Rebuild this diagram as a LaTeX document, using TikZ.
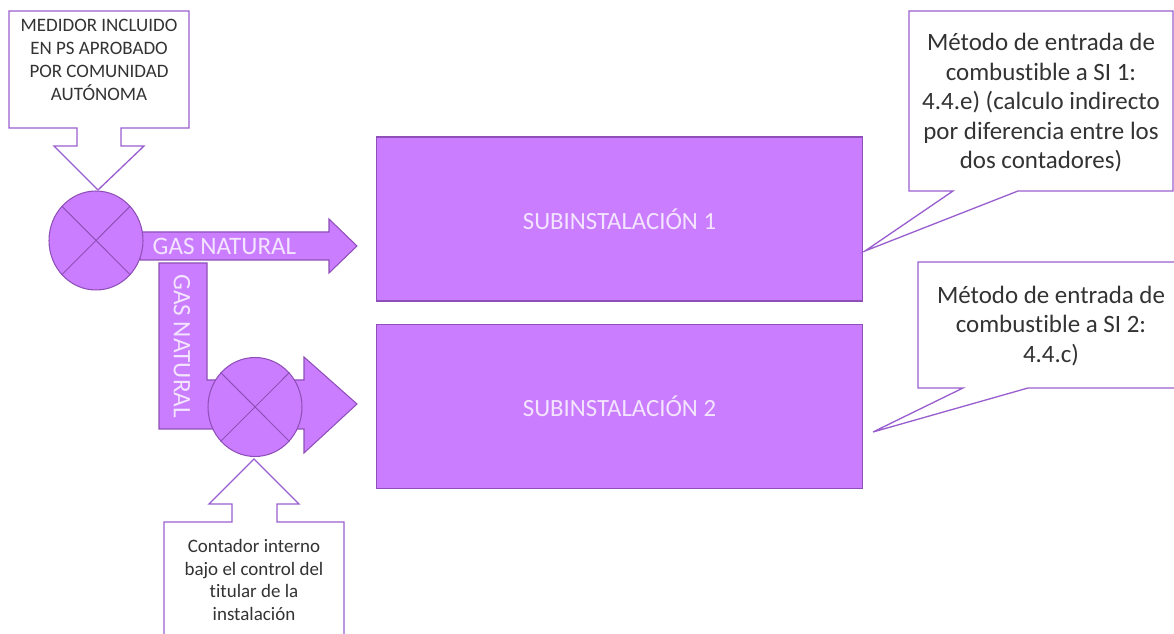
\documentclass[tikz,border=0pt]{standalone}
\usepackage{fontspec}
\setmainfont[Ligatures=NoCommon]{Carlito}
\usepackage{xcolor}
\usetikzlibrary{calc,shapes.geometric}
\definecolor{lilac}{HTML}{CB7DFF}
\definecolor{edge}{HTML}{8F4FB8}
\definecolor{note}{HTML}{9A5FCF}
\definecolor{ink}{HTML}{333333}
\definecolor{pale}{HTML}{F3E4FF}
\tikzset{
  flow/.style={draw=edge, fill=lilac, line width=0.6pt},
  subbox/.style={flow, minimum width=9.74cm, minimum height=3.28cm, inner sep=0pt, text=pale, font=\fontsize{14.1}{17}\selectfont},
  meter/.style={flow, ellipse, minimum width=1.88cm, minimum height=1.98cm, inner sep=0pt},
  cross/.style={draw=edge, line width=0.6pt},
  callout/.style={draw=note, fill=white, line width=0.75pt},
  lbl/.style={text=pale, font=\fontsize{14.3}{17}\selectfont, inner sep=0pt},
  smallnote/.style={text=ink, align=center, inner sep=0pt, font=\fontsize{10.8}{13}\selectfont},
  bignote/.style={text=ink, align=center, inner sep=0pt, font=\fontsize{14.2}{16.8}\selectfont}
}

\begin{document}
\begin{tikzpicture}[x=0.02cm, y=-0.02cm]
  \useasboundingbox (0,0) rectangle (1174,634);

  % gas lines
  \draw[flow] (140,232) -- (329,232) -- (329,219) -- (357,246) -- (329,273) -- (329,260) -- (140,260) -- cycle;
  \draw[flow] (159,263) -- (207,263) -- (207,380) -- (304,380) -- (304,357) -- (357,404)
    -- (304,453) -- (304,429) -- (159,429) -- cycle;
  \node[lbl] (gas1) at (224.5,246) {GAS NATURAL};
  \node[lbl, rotate=-90] (gas2) at (182,346) {GAS NATURAL};

  % meters
  \node[meter] (m1) at (96,240.5) {};
  \draw[cross] (m1.45) -- (m1.225);
  \draw[cross] (m1.135) -- (m1.315);
  \node[meter] (m2) at (255,407) {};
  \draw[cross] (m2.45) -- (m2.225);
  \draw[cross] (m2.135) -- (m2.315);

  % subinstallations
  \node[subbox] (si1) at (619.5,219) {SUBINSTALACIÓN 1};
  \node[subbox] (si2) at (619.5,406.5) {SUBINSTALACIÓN 2};

  % callouts on the meters
  \draw[callout] (9,11) -- (189,11) -- (189,128) -- (121,128) -- (121,146) -- (144,146) -- (98,190)
    -- (54,146) -- (77,146) -- (77,128) -- (9,128) -- cycle;
  \node[smallnote] (n1) at (99,60) {MEDIDOR INCLUIDO\\EN PS APROBADO\\POR COMUNIDAD\\AUTÓNOMA};
  \draw[callout] (164,634) -- (164,522) -- (232,522) -- (232,504) -- (209,504) -- (254,459)
    -- (299,504) -- (277,504) -- (277,522) -- (344,522) -- (344,634);
  \node[smallnote] (n2) at (254,580) {Contador interno\\bajo el control del\\titular de la\\instalación};

  % callouts on the subinstallations
  \draw[callout] (909,11) -- (1173,11) -- (1173,191) -- (1018,191) -- (865,251) -- (953,191) -- (909,191) -- cycle;
  \node[bignote] (n3) at (1041,103) {Método de entrada de\\combustible a SI 1:\\4.4.e) (calculo indirecto\\por diferencia entre los\\dos contadores)};
  \draw[callout] (1174,262) -- (918,262) -- (918,388) -- (963,388) -- (873,432) -- (1028,388) -- (1174,388);
  \node[bignote] (n4) at (1051,326) {Método de entrada de\\combustible a SI 2:\\4.4.c)};
\end{tikzpicture}
\end{document}
